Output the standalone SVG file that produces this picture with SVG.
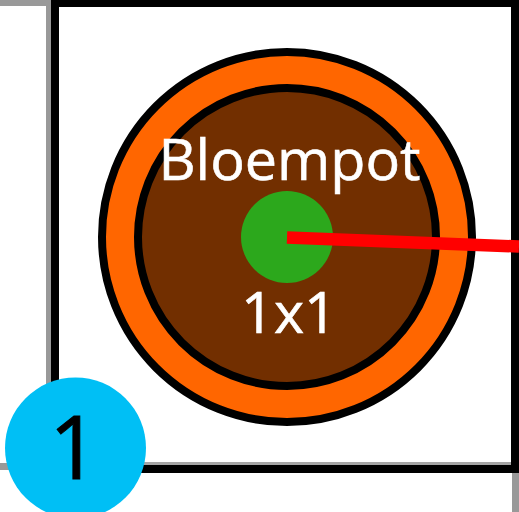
<svg xmlns="http://www.w3.org/2000/svg" width="519" height="512" viewBox="0 0 519 512">
<style>text{font-family:"Open Sans","Noto Sans",sans-serif;text-anchor:middle}</style>
<rect width="519" height="512" fill="#fff"/>
<g id="grid" fill="#999">
<rect x="0" y="0" width="51" height="6"/>
<rect x="46" y="0" width="6" height="512"/>
<rect x="0" y="463" width="60" height="7"/>
<rect x="512" y="470" width="7" height="42"/>
</g>
<g id="frame">
<rect x="59" y="6" width="455" height="459" fill="#fff"/>
<rect x="511.500" y="6" width="2.500" height="459" fill="#a5a5a5"/>
<rect x="59" y="462" width="455" height="3" fill="#a5a5a5"/>
<rect x="55" y="3" width="460" height="466" fill="none" stroke="#000" stroke-width="8"/>
<rect x="514" y="0" width="5" height="473" fill="#000"/>
</g>
<g id="pot">
<circle cx="287" cy="237" r="185" fill="#ff6600" stroke="#000" stroke-width="8"/>
<circle cx="287" cy="237" r="149" fill="#722f00" stroke="#000" stroke-width="8"/>
<circle cx="287" cy="237" r="46" fill="#2ca81c"/>
<text x="289.500" y="180" font-size="57.500" fill="#fff" stroke="#fff" stroke-width="0.600">Bloempot</text>
<text x="289" y="333" font-size="57.500" fill="#fff" stroke="#fff" stroke-width="0.600">1x1</text>
</g>
<g id="connectors"><path d="M287 237.500L519 246.500" stroke="#ff0000" stroke-width="12.500" fill="none"/></g>
<g id="badge"><circle cx="75.500" cy="448" r="70.500" fill="#00bff5"/>
<text x="74" y="479" font-size="87" fill="#000" stroke="#000" stroke-width="1">1</text></g>
</svg>
